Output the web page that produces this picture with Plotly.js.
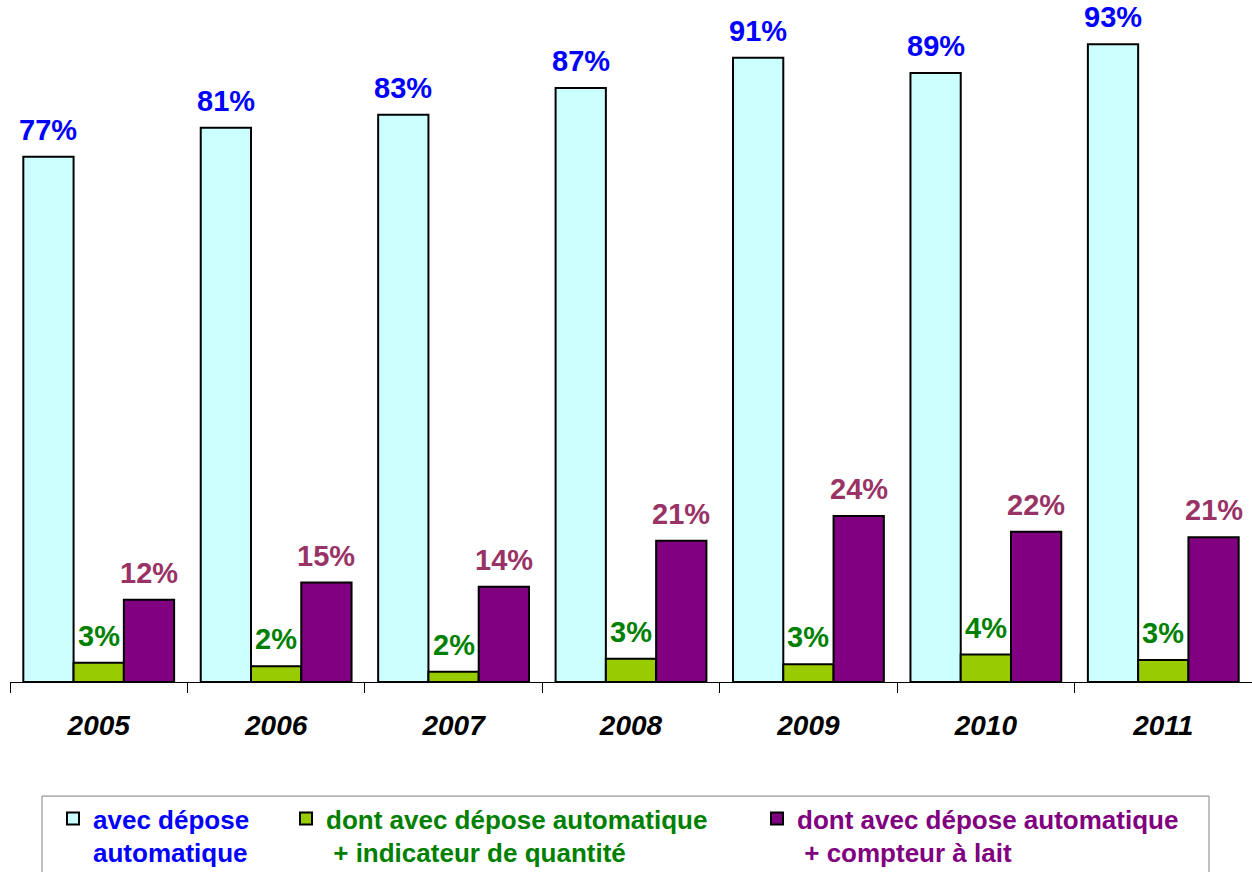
<!DOCTYPE html>
<html>
<head>
<meta charset="utf-8">
<script src="https://cdn.plot.ly/plotly-3.0.1.min.js"></script>
<style>
  html, body { margin: 0; padding: 0; background: #fff; }
  #chart { width: 1252px; height: 872px; }
</style>
</head>
<body>
<div id="chart"></div>
<script>
// Années
const years = ['2005', '2006', '2007', '2008', '2009', '2010', '2011'];

// Séries (en %)
const deposeAuto = [76.6, 80.8, 82.7, 86.6, 91.0, 88.8, 93.0];
const deposeIndicateur = [2.8, 2.3, 1.5, 3.4, 2.6, 4.0, 3.2];
const deposeCompteur = [12.0, 14.5, 13.9, 20.6, 24.2, 21.9, 21.1];

const seriesNames = [
    'avec dépose<br>automatique',
    'dont avec dépose automatique<br> + indicateur de quantité',
    'dont avec dépose automatique<br> + compteur à lait'
];

const FONT = 'Arial, "Liberation Sans", sans-serif';
const W = 1252, H = 872;
const margin = { t: 3, b: 190, l: 10, r: 0 };
const BARGAP = 0.15;

const series = [
    { y: deposeAuto, name: seriesNames[0], fill: '#CCFFFF', label: '#0000FF', legend: 'legend' },
    { y: deposeIndicateur, name: seriesNames[1], fill: '#99CC00', label: '#008000', legend: 'legend2' },
    { y: deposeCompteur, name: seriesNames[2], fill: '#800080', label: '#993366', legend: 'legend3' }
];

const traces = series.map(s => ({
    type: 'bar',
    x: years,
    y: s.y,
    name: s.name,
    legend: s.legend,
    marker: { color: s.fill, line: { color: '#000000', width: 2 } },
    hoverinfo: 'skip'
}));

// étiquettes de valeur au-dessus des barres (décalées sur la largeur de barre)
const barPx = (W - margin.l - margin.r) / years.length * (1 - BARGAP) / series.length;
const annotations = [];
series.forEach((s, i) => {
    s.y.forEach((v, j) => {
        annotations.push({
            x: j, y: v,   // indice de catégorie
            xref: 'x', yref: 'y',
            text: Math.round(v) + '%',
            showarrow: false,
            xanchor: 'center', yanchor: 'bottom',
            xshift: (i - (series.length - 1) / 2) * barPx,
            yshift: 9,
            font: { family: FONT, size: 29, color: s.label, weight: 'bold' }
        });
    });
});

// légendes placées dans le conteneur pour ne pas pousser les marges
const legendBase = {
    orientation: 'h',
    xref: 'container',
    yref: 'container',
    xanchor: 'left',
    yanchor: 'top',
    y: (H - 795) / H,
    valign: 'top',
    bgcolor: 'rgba(0,0,0,0)',
    borderwidth: 0
};
const legendFont = (color) => ({ family: FONT, size: 26, color: color, weight: 'bold' });

const layout = {
    width: W,
    height: H,
    margin: margin,
    paper_bgcolor: '#ffffff',
    plot_bgcolor: '#ffffff',
    barmode: 'group',
    bargap: BARGAP,
    bargroupgap: 0,
    font: { family: FONT },
    xaxis: {
        type: 'category',
        range: [-0.5, years.length - 0.5],
        automargin: false,
        showline: true,
        linecolor: '#000000',
        linewidth: 1,
        ticks: 'outside',
        tickson: 'boundaries',
        ticklen: 10,
        tickcolor: '#000000',
        ticklabelstandoff: 18,
        tickfont: { family: FONT, size: 28, color: '#000000', weight: 'bold', style: 'italic' },
        fixedrange: true
    },
    yaxis: {
        range: [0, 99],
        automargin: false,
        showgrid: false,
        zeroline: false,
        showline: false,
        showticklabels: false,
        ticks: ''
    },
    showlegend: true,
    legend: Object.assign({}, legendBase, { x: 53 / W, font: legendFont(series[0].label) }),
    legend2: Object.assign({}, legendBase, { x: 286 / W, font: legendFont('#008000') }),
    legend3: Object.assign({}, legendBase, { x: 757 / W, font: legendFont('#800080') }),
    annotations: annotations,
    shapes: [{
        type: 'rect',
        xref: 'paper', yref: 'paper',
        x0: 0.0258, x1: 0.9654,
        y0: -0.168, y1: -0.30,
        line: { color: '#808080', width: 1 },
        fillcolor: 'rgba(0,0,0,0)'
    }]
};

Plotly.newPlot('chart', traces, layout, { displayModeBar: false, staticPlot: true });
</script>
</body>
</html>
